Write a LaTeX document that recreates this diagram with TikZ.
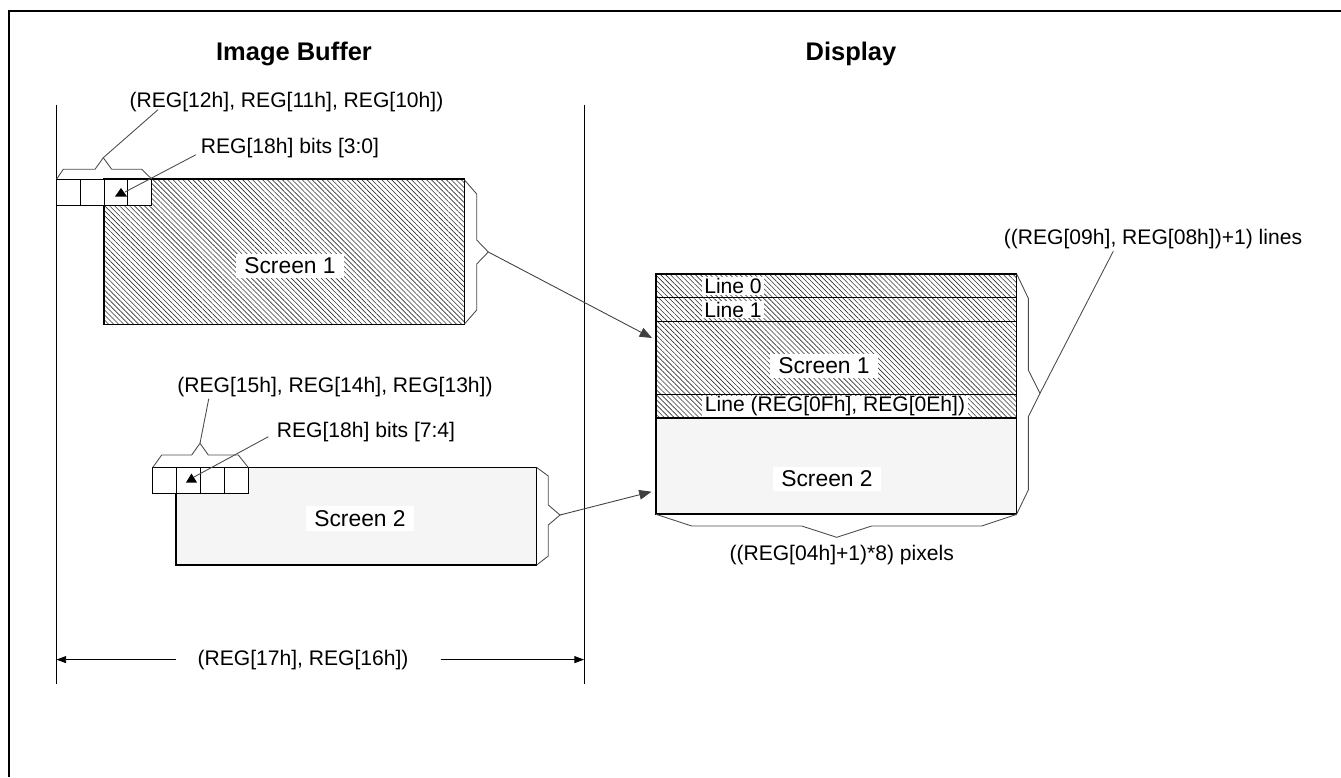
\documentclass[tikz,border=0pt]{standalone}
\usepackage{fontspec}
\setmainfont{Liberation Sans}
\usetikzlibrary{positioning, arrows.meta, patterns.meta}

\begin{document}
\begin{tikzpicture}[
    x=0.02cm, y=-0.02cm,
    >={Triangle[length=7pt, width=5.5pt]},
    lbl/.style={font=\fontsize{12}{14}\selectfont, inner sep=1pt},
    hdr/.style={font=\fontsize{14.5}{17}\selectfont\bfseries},
    scrlbl/.style={font=\fontsize{13}{15}\selectfont, fill=white, inner xsep=4.5pt, inner ysep=2.5pt},
    linelbl/.style={lbl, fill=white, inner xsep=1.5pt, inner ysep=0.5pt},
    hatch/.style={pattern={Lines[angle=-45, distance=2pt, line width=0.35pt]}, pattern color=black!80},
    greyfill/.style={fill=black!4},
    areabox/.style={draw, line width=0.7pt},
    cellbox/.style={draw, fill=white, line width=0.5pt},
    brace/.style={draw=black!70, line width=0.5pt},
    lead/.style={draw=black!70, line width=0.5pt},
    arrow/.style={->, draw=black!75, line width=0.5pt},
    dimarrow/.style={-{Triangle[length=5.5pt, width=4pt]}, line width=0.5pt}
]
\useasboundingbox (0,0) rectangle (1341,777);
\draw[line width=1.1pt] (9,777) -- (9,11) -- (1341,11);

% titles
\node[hdr] (bufTitle) at (294,54) {Image Buffer};
\node[hdr] (dispTitle) at (851,54) {Display};

% image buffer bounds
\draw[line width=0.5pt] (56.5,105) -- (56.5,684);
\draw[line width=0.5pt] (584,105) -- (584,684);

% screen 1 in the buffer
\draw[areabox, hatch] (104,179) rectangle (464.5,324.5);
\foreach \i in {0,...,3}
    \draw[cellbox] ({56.5+23.75*\i},179) rectangle +(23.75,26);
\fill (121,188) -- (127,196.5) -- (115,196.5) -- cycle;
\coordinate (markA) at (125,192);
\node[scrlbl] (scrA) at (290,266) {Screen 1};

\draw[brace] (56.7,179) -- (63.3,169.3) -- (95,169.3) -- (103.3,157.7)
    -- (111.7,169.3) -- (141.7,169.3) -- (151.7,179);
\coordinate (tipA) at (103.3,157.7);
\node[lbl] (regA) at (286.5,101.7) {(REG[12h], REG[11h], REG[10h])};
\node[lbl] (bitsA) at (290,148.3) {REG[18h] bits [3:0]};
\draw[lead] (tipA) -- ([xshift=0.61cm, yshift=0.08cm]regA.south west);
\draw[lead] ([xshift=-0.06cm, yshift=-0.13cm]bitsA.west) -- (markA);

\draw[brace] (464.5,180) -- (476.7,194) -- (476.7,240) -- (488.3,252)
    -- (476.7,264) -- (476.7,310) -- (464.5,324);
\coordinate (tipB) at (488.3,252);

% screen 2 in the buffer
\draw[areabox, greyfill] (176,467.5) rectangle (536.7,565);
\foreach \i in {0,...,3}
    \draw[cellbox] ({152.5+24*\i},467.5) rectangle +(24,26);
\fill (191.5,473.5) -- (197,482.5) -- (186,482.5) -- cycle;
\coordinate (markB) at (194,477);
\node[scrlbl] (scrB) at (360,518.7) {Screen 2};

\draw[brace] (152.7,467.5) -- (161.7,455) -- (191.7,455) -- (200,443.3)
    -- (208.3,455) -- (238.3,455) -- (248.3,467.5);
\coordinate (tipC) at (200,443.3);
\node[lbl] (regB) at (335,386.7) {(REG[15h], REG[14h], REG[13h])};
\node[lbl] (bitsB) at (366,431.7) {REG[18h] bits [7:4]};
\draw[lead] (tipC) -- ([xshift=0.67cm]regB.south west);
\draw[lead] ([xshift=-0.13cm, yshift=-0.1cm]bitsB.west) -- (markB);

\draw[brace] (536.7,467.5) -- (548.3,476) -- (548.3,505) -- (560,515)
    -- (548.3,525) -- (548.3,556) -- (536.7,565);
\coordinate (tipD) at (560,515);

% display
\draw[areabox, hatch] (656,274) rectangle (1016.7,417.7);
\draw[areabox, greyfill] (656,417.7) rectangle (1016.7,514);
\draw[line width=0.5pt] (656,297.3) -- (1016.7,297.3);
\draw[line width=0.5pt] (656,321) -- (1016.7,321);
\draw[line width=0.5pt] (656,394.3) -- (1016.7,394.3);
\draw[line width=1.3pt] (656,417.7) -- (1016.7,417.7);
\node[linelbl] (line0) at (733,286) {Line 0};
\node[linelbl] (line1) at (733,309.5) {Line 1};
\node[scrlbl] (dispA) at (824,366) {Screen 1};
\node[linelbl] (lineN) at (835,406.3) {Line (REG[0Fh], REG[0Eh])};
\node[scrlbl] (dispB) at (827,479) {Screen 2};
\coordinate (dispInA) at (652,338);
\coordinate (dispInB) at (651.5,491.7);

\draw[arrow] (tipB) -- (dispInA);
\draw[arrow] (tipD) -- (dispInB);

\draw[brace] (1016.7,274) -- (1028.3,298.3) -- (1028.3,370) -- (1040,393.3)
    -- (1028.3,416.7) -- (1028.3,490) -- (1016.7,514);
\coordinate (tipE) at (1040,393.3);
\node[lbl] (linesLbl) at (1153,239.3) {((REG[09h], REG[08h])+1) lines};
\draw[lead] (tipE) -- ([xshift=2.23cm]linesLbl.south west);

\draw[brace] (656,514.3) -- (691.7,526) -- (801.7,526) -- (836.7,537.3)
    -- (871.7,526) -- (981.7,526) -- (1016.7,514.3);
\node[lbl] (pixLbl) at (841.7,555) {((REG[04h]+1)*8) pixels};

% buffer width
\coordinate (bufL) at (56.5,659.6);
\coordinate (bufR) at (584,659.6);
\node[lbl] (widthLbl) at (303,659.6) {(REG[17h], REG[16h])};
\draw[dimarrow] ([xshift=-0.39cm]widthLbl.west) -- (bufL);
\draw[dimarrow] ([xshift=0.6cm]widthLbl.east) -- (bufR);
\end{tikzpicture}
\end{document}
